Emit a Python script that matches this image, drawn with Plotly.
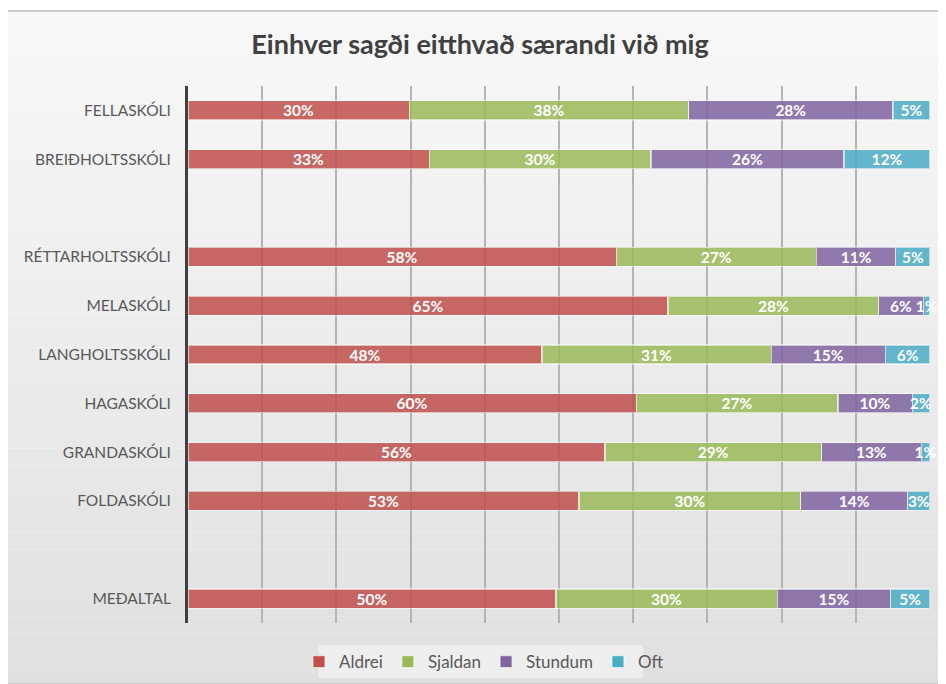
import plotly.graph_objects as go

categories = ["FELLASKÓLI", "BREIÐHOLTSSKÓLI", " ", "RÉTTARHOLTSSKÓLI", "MELASKÓLI",
              "LANGHOLTSSKÓLI", "HAGASKÓLI", "GRANDASKÓLI", "FOLDASKÓLI", "  ", "MEÐALTAL"]
aldrei  = [0.298, 0.325, None, 0.577, 0.647, 0.477, 0.604, 0.562, 0.527, None, 0.496]
sjaldan = [0.377, 0.299, None, 0.270, 0.284, 0.309, 0.272, 0.292, 0.299, None, 0.298]
stundum = [0.275, 0.260, None, 0.107, 0.060, 0.154, 0.100, 0.134, 0.144, None, 0.153]
oft     = [0.050, 0.116, None, 0.046, 0.009, 0.060, 0.024, 0.012, 0.030, None, 0.053]

series = [("Aldrei", aldrei, "#C0504D"), ("Sjaldan", sjaldan, "#9BBB59"),
          ("Stundum", stundum, "#8064A2"), ("Oft", oft, "#4BACC6")]

FONT = "Lato"
fig = go.Figure()
for name, vals, col in series:
    fig.add_trace(go.Bar(
        y=categories, x=vals, name=name, orientation="h",
        marker=dict(color=col, opacity=0.85, line=dict(color="rgba(255,255,255,0.6)", width=1.2)),
        texttemplate="%{x:.0%}", textposition="inside", insidetextanchor="middle",
        textangle=0,
        textfont=dict(color="white", size=15.5, family=FONT, weight="bold"),
        cliponaxis=False, hoverinfo="skip",
    ))

# page has an 8px body margin; work in screen pixels and convert
OFF = 8
W, H = 946 - OFF, 684 - OFF
L, R, T, B = 188 - OFF, 16, 86 - OFF, 4
pw, ph = W - L - R, H - T - B          # paper area (pixels)
plot_bottom = 623 - OFF                 # bottom of bar area in figure pixels
dom0 = (H - B - plot_bottom) / ph       # y-domain start of the bar area

def px_x(p):
    return (p - OFF - L) / pw

def px_y(p):
    return 1 - (p - OFF - T) / ph

shapes = []
n = 40
x0p, x1p, y0p, y1p = 6, 942, 11, 684
for i in range(n):
    ya = y0p + (y1p - y0p) * i / n
    yb = y0p + (y1p - y0p) * (i + 1) / n
    t = i / (n - 1)
    v = int(round(248 - (248 - 224) * t))
    shapes.append(dict(type="rect", xref="paper", yref="paper", layer="below",
                       x0=px_x(x0p), x1=px_x(x1p), y0=px_y(yb), y1=px_y(ya),
                       line=dict(width=0), fillcolor=f"rgb({v},{v},{v})"))
shapes.append(dict(type="rect", xref="paper", yref="paper", layer="below",
                   x0=px_x(x0p), x1=px_x(x1p), y0=px_y(y1p), y1=px_y(y0p),
                   line=dict(color="#BFBFBF", width=1.5), fillcolor="rgba(0,0,0,0)"))
shapes.append(dict(type="rect", xref="paper", yref="paper", layer="below",
                   x0=px_x(318), x1=px_x(643), y0=px_y(678), y1=px_y(645),
                   line=dict(width=0), fillcolor="rgba(240,240,240,0.9)"))

fig.update_layout(
    width=W, height=H,
    margin=dict(l=L, r=R, t=T, b=B),
    paper_bgcolor="white", plot_bgcolor="rgba(0,0,0,0)",
    barmode="stack", bargap=0.61,
    font=dict(family=FONT, color="#595959"),
    title=dict(text="<b>Einhver sagði eitthvað særandi við mig</b>",
               x=(480 - OFF) / W, xanchor="center", y=1 - (45 - OFF) / H, yanchor="middle",
               font=dict(size=27, color="#404040", family=FONT)),
    xaxis=dict(range=[0, 1], dtick=0.1, showgrid=True, gridcolor="#B4B4B4", gridwidth=1.6,
               showticklabels=False, zeroline=False, showline=False, fixedrange=True,
               anchor="y"),
    yaxis=dict(categoryorder="array", categoryarray=categories, autorange="reversed",
               domain=[dom0, 1],
               showgrid=False, showline=True, linecolor="#404040", linewidth=3,
               ticks="", ticklen=0, tickfont=dict(size=15.5, color="#595959", family=FONT),
               ticklabelstandoff=11),
    showlegend=True,
    legend=dict(orientation="h", x=px_x(484), xanchor="center",
                y=px_y(662), yanchor="middle",
                font=dict(size=17, color="#595959", family=FONT),
                bgcolor="rgba(0,0,0,0)", itemwidth=30, traceorder="normal"),
    uniformtext=dict(mode="show", minsize=15.5),
    shapes=shapes,
)

fig.write_html("out.html")
